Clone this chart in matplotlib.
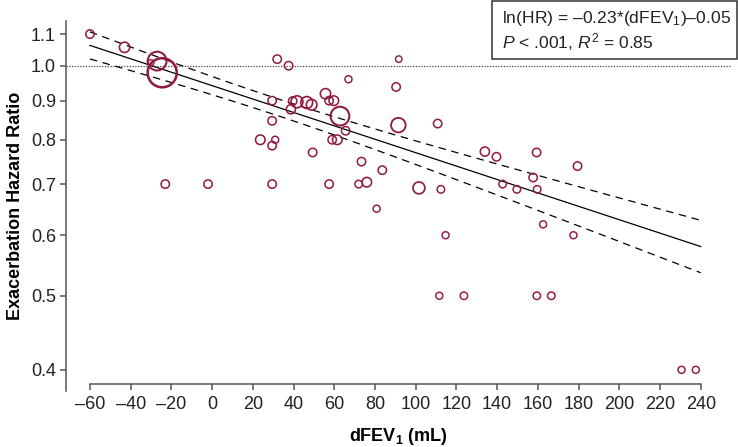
import numpy as np
import matplotlib
matplotlib.use("Agg")
import matplotlib.pyplot as plt
from matplotlib.patches import Rectangle

plt.rcParams['font.family'] = ['Liberation Sans', 'DejaVu Sans']
plt.rcParams['mathtext.fontset'] = 'custom'
plt.rcParams['mathtext.rm'] = 'Liberation Sans'
plt.rcParams['mathtext.it'] = 'Liberation Sans:italic'
plt.rcParams['mathtext.bf'] = 'Liberation Sans:bold'

# Studien: dFEV1 (mL), Hazard Ratio, relatives Gewicht
dfev1 = [-60, -43, -27, -24.5, -30, -23, -2, 29.5, 57.5, 72, 76, 32, 37.6, 67,
         29.5, 29.5, 23.7, 31, 29.5, 49.4, 73.4, 38.7, 39.6, 41.7, 46.5, 48.9,
         55.7, 57.5, 59.8, 62.8, 65.6, 59, 61.5, 91.7, 90.4, 91.5, 83.6, 80.8,
         101.6, 112.4, 110.8, 134, 139.7, 159.4, 179.5, 157.7, 142.7, 149.7,
         159.7, 162.6, 177.5, 114.7, 111.6, 123.7, 159.5, 166.6, 230.6, 237.6]
hr = [1.10, 1.057, 1.014, 0.979, 1.009, 0.70, 0.70, 0.70, 0.70, 0.70, 0.704,
      1.02, 1.0, 0.96, 0.90, 0.847, 0.80, 0.80, 0.786, 0.77, 0.749, 0.877,
      0.899, 0.897, 0.895, 0.889, 0.919, 0.90, 0.90, 0.859, 0.822, 0.80, 0.80,
      1.02, 0.938, 0.836, 0.73, 0.65, 0.692, 0.689, 0.84, 0.772, 0.76, 0.77,
      0.739, 0.714, 0.70, 0.689, 0.689, 0.62, 0.60, 0.60, 0.50, 0.50, 0.50,
      0.50, 0.40, 0.40]
weight = [1, 1.5, 5, 12, 0.5, 1, 1, 1, 1, 0.8, 1.3, 1, 1, 0.7,
          1, 1, 1.3, 0.7, 1, 1, 1, 1.2, 1, 2, 2, 1.6,
          1.5, 1, 1.3, 5, 1, 1, 1.3, 0.6, 1, 3, 1, 0.7,
          2, 0.8, 1, 1.2, 1, 1, 1, 1, 0.8, 0.8,
          0.8, 0.7, 0.7, 0.7, 0.7, 0.8, 0.8, 0.8, 0.7, 0.7]

# Meta-Regression, ln(HR) pro 100 mL
b0, b1 = -0.06, -0.202
se0, se_slope, xbar = 0.0253, 0.0356, 30

x_ticks = [-60, -40, -20, 0, 20, 40, 60, 80, 100, 120, 140, 160, 180, 200, 220, 240]
y_ticks = [0.4, 0.5, 0.6, 0.7, 0.8, 0.9, 1.0, 1.1]

fig = plt.figure(figsize=(7.38, 4.47), dpi=100)
ax = fig.add_axes([0.089, 0.1253, 0.901, 0.8284])
ax.set_yscale('log')
ax.set_xlim(-71.9, 254.7)
ax.set_ylim(0.3753, 1.1452)

ax.axhline(1.0, color='#444444', lw=0.9, ls=(0, (1, 1.2)), zorder=1)

xs = np.linspace(-60, 240, 200)
fit = b0 + b1 * xs / 100
half = np.sqrt(se0 ** 2 + (se_slope * (xs - xbar) / 100) ** 2)
ax.plot(xs, np.exp(fit), color='black', lw=0.9, zorder=2)
ax.plot(xs, np.exp(fit + half), color='black', lw=0.9, ls=(0, (6, 4.5)), zorder=2)
ax.plot(xs, np.exp(fit - half), color='black', lw=0.9, ls=(0, (6, 4.5)), zorder=2)

w = np.array(weight)
radius_px = 4.2 * np.sqrt(w)
sizes = (2 * radius_px * 0.72) ** 2
lws = 0.8 + 0.3 * np.sqrt(w)
ax.scatter(dfev1, hr, s=sizes, facecolors='none', edgecolors='#921a42',
           linewidths=lws, zorder=3)

ax.set_xticks(x_ticks)
ax.set_xticklabels([f"{t}".replace('-', '\u2013') for t in x_ticks])
ax.set_yticks(y_ticks)
ax.set_yticklabels([f"{t:.1f}" for t in y_ticks])
ax.yaxis.set_minor_locator(matplotlib.ticker.NullLocator())

for s in ['top', 'right']:
    ax.spines[s].set_visible(False)
ax.spines['left'].set_color('#555555')
ax.spines['left'].set_linewidth(1.1)
ax.spines['bottom'].set_color('#555555')
ax.spines['bottom'].set_linewidth(1.1)
ax.spines['bottom'].set_position(('data', 0.3837))
ax.spines['bottom'].set_bounds(-60, 240)
ax.tick_params(axis='both', length=4.5, width=1.1, color='#555555',
               labelsize=13, labelcolor='#222222')
ax.tick_params(axis='x', pad=4.5)
ax.tick_params(axis='y', pad=2.5)

ax.set_xlabel(r"dFEV$_\mathbf{1}$ (mL)", fontsize=13, fontweight='bold',
              labelpad=9)
ax.set_ylabel("Exacerbation Hazard Ratio", fontsize=13, fontweight='bold',
              labelpad=5)

fig.patches.append(Rectangle((0.6663, 0.8673), 0.3317, 0.1305,
                             transform=fig.transFigure, fill=False,
                             edgecolor='#333333', lw=1.1))
fig.text(0.6806, 0.9597, "ln(HR) = \u20130.23*(dFEV$_1$)\u20130.05",
         fontsize=12.6, va='center', ha='left', color='#222222')
fig.text(0.6806, 0.9067, "$P$ < .001, $R^2$ = 0.85",
         fontsize=12.6, va='center', ha='left', color='#222222')

fig.savefig("out.png", dpi=100)
